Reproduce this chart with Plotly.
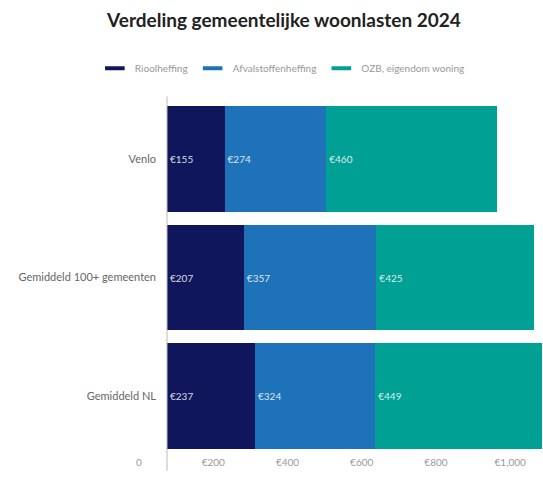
import plotly.graph_objects as go

categories = ["Venlo", "Gemiddeld 100+ gemeenten", "Gemiddeld NL"]
series_names = ["Rioolheffing", "Afvalstoffenheffing", "OZB, eigendom woning"]
rioolheffing = [155, 207, 237]
afvalstoffenheffing = [274, 357, 324]
ozb = [460, 425, 449]
tick_values = [0, 200, 400, 600, 800, 1000]
tick_labels = ["0", "€200", "€400", "€600", "€800", "€1,000"]

colors = ["#10165c", "#1e72b9", "#00a095"]
series_values = [rioolheffing, afvalstoffenheffing, ozb]

FONT = "Lato"
fig = go.Figure()
for name, vals, col in zip(series_names, series_values, colors):
    fig.add_trace(go.Bar(
        y=categories, x=vals, orientation="h", name=name,
        marker=dict(color=col, line=dict(width=0)),
        texttemplate="€%{x}", textposition="inside", insidetextanchor="start",
        textfont=dict(color="rgba(255,255,255,0.85)", size=10, family=FONT),
        showlegend=False, hoverinfo="x+name",
    ))
for name, col in zip(series_names, colors):
    fig.add_trace(go.Scatter(
        x=[None], y=[None], mode="markers", name=name,
        marker=dict(symbol="line-ew", size=14, color=col, line=dict(width=4, color=col)),
    ))

fig.update_layout(
    width=543, height=477,
    margin=dict(l=167, r=0, t=100, b=22),
    barmode="stack", bargap=0.105,
    plot_bgcolor="white", paper_bgcolor="white",
    font=dict(family=FONT, color="#666666", size=10),
    title=dict(text="<b>Verdeling gemeentelijke woonlasten 2024</b>",
               x=0.523, xanchor="center", y=0.958, yanchor="middle",
               font=dict(size=19, color="#222222", family=FONT)),
    legend=dict(orientation="h", xref="container", yref="container", traceorder="normal",
                x=0.52, xanchor="center", y=0.857, yanchor="middle",
                font=dict(size=10, color="#999999"), itemwidth=30),
    xaxis=dict(range=[0, 1013], tickvals=tick_values, ticktext=tick_labels,
               showgrid=False, zeroline=False, showline=False, ticks="",
               ticklabelshift=-28,
               tickfont=dict(size=10, color="#999999")),
    yaxis=dict(categoryorder="array", categoryarray=categories, autorange="reversed",
               showgrid=False, zeroline=False, showline=False, ticks="",
               ticklabelstandoff=10, tickfont=dict(size=11, color="#666666")),
    shapes=[dict(type="line", xref="paper", yref="paper", x0=0, x1=0, y0=-0.045, y1=1.01,
                 line=dict(color="#bbbbbb", width=1))],
)
fig.write_html("out.html")
